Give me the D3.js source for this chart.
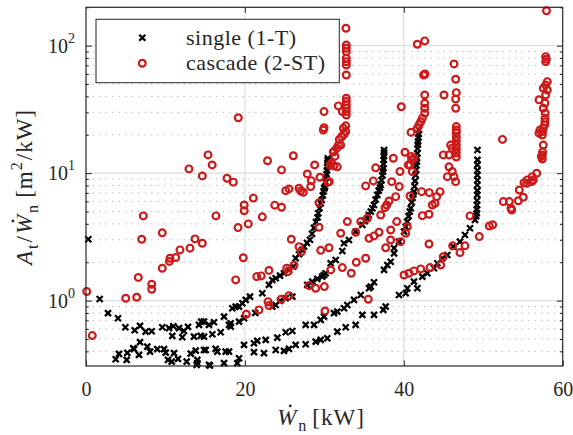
<!DOCTYPE html>
<html>
<head>
<meta charset="utf-8">
<script src="https://cdn.jsdelivr.net/npm/d3@7"></script>
<style>
  body { margin: 0; background: #fff; }
  svg { display: block; }
  text { font-family: "Liberation Serif", "Times New Roman", serif; fill: #262626; }
</style>
</head>
<body>
<div id="chart"></div>
<script>
// ---- data: [W_n in kW, A_t/W_n in m2/kW] ----
var singlePts = [
  [0.29,3.03],
  // upper band -> steep branch near 30 kW
  [1.72,1.03],[2.77,0.797],[4.03,0.728],[4.95,0.618],[6.13,0.586],[6.80,0.634],[7.51,0.571],[8.27,0.575],
  [9.60,0.618],[10.45,0.608],[10.99,0.630],[11.71,0.608],[12.33,0.578],[12.84,0.622],[14.22,0.645],[14.51,0.684],
  [14.85,0.684],[15.48,0.645],[16.11,0.677],[17.37,0.749],[18.41,0.872],[18.84,0.897],[19.26,0.897],[19.68,0.954],
  [20.10,1.013],[20.64,1.075],[22.19,1.143],[23.03,1.328],[23.45,1.453],[23.88,1.498],[24.42,1.571],[24.92,1.64],
  [25.55,1.74],[26.09,1.848],[26.39,2.15],[26.81,2.31],[27.22,2.50],[27.44,2.65],[27.82,2.84],[28.19,3.0],
  [28.45,3.35],[28.70,3.72],[28.95,4.14],[29.15,4.5],[29.24,4.85],[29.40,5.3],[29.55,5.8],[29.67,6.16],
  [29.80,6.7],[29.90,7.2],[30.0,7.6],[30.08,7.84],[30.15,8.5],[30.2,9.2],[30.28,9.8],[30.33,10.5],
  [30.36,11.2],[30.4,12.0],[30.42,12.6],[30.44,13.1],
  // second band -> branch near 37.5 kW
  [10.86,0.529],[12.12,0.516],[13.59,0.522],[14.44,0.529],[14.85,0.522],[15.90,0.545],[16.95,0.565],[18.0,0.645],
  [18.21,0.625],[18.21,0.665],[19.26,0.684],[19.89,0.728],[21.3,0.80],[23.45,0.897],[23.88,0.925],[24.42,0.995],
  [25.14,1.044],[25.97,1.075],[27.85,1.328],[28.48,1.409],[29.11,1.48],[29.74,1.543],[29.96,1.59],[30.17,1.64],
  [30.80,1.965],[31.43,2.085],[32.26,2.45],[32.47,2.82],[33.10,2.99],[33.94,3.48],[34.78,3.93],[35.1,4.2],
  [35.41,4.43],[35.6,4.7],[35.84,4.99],[36.05,5.3],[36.25,5.63],[36.45,6.2],[36.67,6.75],[36.85,7.3],
  [37.0,7.7],[37.09,8.08],[37.2,8.8],[37.3,9.6],[37.38,10.3],[37.42,10.9],[37.45,11.8],[37.48,12.7],
  [37.5,13.6],[37.51,14.5],[37.52,15.2],
  // third band -> branch near 42 kW
  [14.85,0.41],[16.32,0.418],[16.53,0.398],[17.58,0.398],[18.0,0.398],[19.89,0.45],[21.14,0.463],[21.56,0.483],
  [22.62,0.492],[24.08,0.513],[25.14,0.565],[25.97,0.578],[27.65,0.645],[28.70,0.645],[29.54,0.706],[29.96,0.749],
  [31.21,0.797],[31.63,0.820],[32.47,0.872],[32.89,0.925],[33.73,1.013],[34.58,1.108],[35.62,1.251],[35.84,1.288],
  [36.25,1.394],[37.51,1.741],[37.92,1.905],[38.35,2.02],[38.77,2.35],[38.77,2.58],[39.40,2.90],[40.03,3.48],
  [40.25,3.8],[40.44,4.17],[40.6,4.6],[40.75,5.0],[40.87,5.31],[41.0,5.9],[41.1,6.4],[41.2,6.8],
  [41.28,7.16],[41.35,7.9],[41.42,8.7],[41.5,9.68],[41.55,10.6],[41.58,11.5],[41.62,12.3],[41.65,13.1],
  [41.7,14.3],[41.73,15.6],[41.76,16.7],[41.79,17.7],[41.83,19.0],[41.87,20.3],[41.91,21.8],
  // lowest band -> branch near 49 kW
  [15.48,0.313],[17.37,0.323],[19.04,0.323],[19.26,0.353],[21.14,0.394],[22.40,0.387],[23.88,0.41],[24.92,0.403],
  [25.55,0.418],[26.39,0.45],[27.65,0.455],[28.91,0.477],[29.54,0.492],[30.37,0.507],[31.63,0.571],[32.69,0.618],
  [33.94,0.645],[34.78,0.773],[36.25,0.773],[37.42,0.846],[37.72,0.897],[39.40,1.108],[40.24,1.143],[40.44,1.251],
  [41.70,1.251],[41.28,1.409],[42.33,1.543],[42.96,1.64],[43.80,1.795],[44.22,1.965],[44.85,2.15],[45.48,2.28],
  [46.23,2.65],[47.07,2.90],[47.70,3.27],[48.33,3.70],[48.96,4.30],[49.1,4.6],[49.18,4.85],[49.2,5.2],
  [49.21,5.63],[49.22,6.1],[49.24,6.75],[49.25,7.3],[49.25,8.08],[49.26,8.8],[49.26,9.68],[49.26,10.5],
  [49.26,11.6],[49.27,12.7],[49.27,15.2],
  // scattered low points
  [6.80,0.472],[6.04,0.416],[7.72,0.436],[8.06,0.398],[6.67,0.375],[8.97,0.416],[9.82,0.416],[10.03,0.391],
  [11.08,0.387],[13.18,0.384],[13.81,0.405],[15.07,0.41],[4.15,0.382],[3.74,0.347],[5.20,0.389],[5.12,0.343],
  [10.32,0.343],[10.79,0.332],[11.58,0.349],[12.67,0.332],[14.01,0.343],[14.01,0.323],[15.6,0.31],[5.95,0.423],
  [13.93,0.313]
];

var cascadePts = [
  [0.09,1.18],[0.79,0.532],[5.0,1.044],[6.38,1.063],[6.58,1.52],[8.27,1.345],[8.27,1.229],[9.60,1.795],
  [10.51,2.03],[10.57,2.15],[11.29,2.18],[11.83,2.50],[13.09,2.58],[13.72,3.05],[14.64,2.82],[7.01,3.03],
  [9.60,3.40],[7.21,4.62],[16.36,4.62],[12.96,10.8],[14.64,9.51],[15.36,13.9],[15.88,11.6],[17.75,9.12],
  [18.54,8.50],[19.17,27.2],[22.85,12.5],[24.61,10.6],[25.14,7.29],[25.55,7.52],[21.06,6.37],[19.91,5.63],
  [19.91,5.07],[23.76,5.61],[24.61,5.40],[22.19,4.54],[19.13,3.74],[20.43,4.0],[26.09,13.7],[28.78,11.6],
  [27.85,9.86],[28.36,8.73],[29.45,9.29],[28.28,7.84],[26.81,7.61],[27.02,7.25],[27.35,7.08],[29.33,5.87],
  [29.33,3.76],[25.84,3.03],[26.81,2.65],[27.10,2.42],[29.54,2.48],[29.87,21.8],[30.46,8.48],[19.80,2.17],
  [18.84,1.454],[21.49,1.543],[22.06,1.563],[23.03,1.725],[25.26,1.795],[25.43,1.689],[26.18,1.895],[20.18,0.782],
  [21.77,0.846],[22.91,0.982],[23.03,0.914],[24.58,1.026],[25.55,1.094],[28.07,1.311],[28.91,1.251],[30.0,1.288],
  [30.08,0.83],[35.53,1.026],[30.80,1.741],[32.26,1.815],[33.39,1.64],[34.02,2.0],[35.20,2.15],[30.58,2.6],
  [37.72,2.6],[40.03,1.59],[40.65,1.64],[41.28,1.71],[42.13,1.773],[43.30,1.815],[44.64,1.905],[44.97,2.21],
  [43.17,2.78],[46.15,2.69],[47.07,2.38],[47.70,2.69],[48.33,4.62],[49.50,3.18],[50.76,3.85],[51.19,3.93],
  [53.58,5.14],[52.52,5.98],[53.28,5.98],[53.49,5.31],[54.41,6.08],[54.54,7.38],[55.04,6.47],[55.47,8.33],
  [56.10,8.57],[56.73,9.98],[56.30,8.85],[52.42,18.4],
  // column near 58 kW
  [57.96,188],[57.86,82.0],[57.94,78.2],[57.86,74.9],[58.06,52.2],[57.86,49.2],[57.56,46.3],[58.06,44.9],
  [57.86,41.0],[57.02,37.6],[57.77,35.5],[57.56,32.3],[57.8,29.7],[57.77,26.9],[57.77,25.3],[57.73,23.9],
  [57.56,22.5],[57.47,21.2],[57.43,19.9],[57.14,21.8],[57.02,20.6],[57.56,16.6],[57.47,14.7],[57.43,13.9],
  [57.31,13.5],[57.43,12.9],[56.17,9.39],[55.54,8.85],[55.13,8.42],
  // column near 46.5 kW
  [46.32,71.9],[46.53,54.5],[46.61,42.8],[46.53,38.2],[46.53,32.3],[46.61,23.2],[46.61,21.8],[46.61,20.7],
  [46.61,19.2],[46.61,17.9],[46.61,16.6],[46.61,15.5],[46.61,14.4],[46.61,13.4],[45.06,41.0],[45.90,16.6],
  [46.10,15.7],[45.69,13.9],[45.69,11.2],[46.10,10.3],[46.32,9.39],[45.48,9.39],[46.53,8.57],[44.97,13.9],
  // column near 42.6 kW
  [41.70,102.5],[42.63,109],[42.67,60.0],[42.5,58.9],[42.63,41.0],[42.63,35.3],[42.63,32.3],[42.63,29.5],
  [42.33,26.9],[42.13,25.3],[41.91,23.9],[41.70,22.5],[39.69,33.2],[40.91,20.9],[40.15,14.6],[39.52,10.3],
  [40.57,11.6],[40.99,12.7],[41.28,13.1],[40.78,6.62],[38.68,13.1],[38.48,8.57],[39.43,7.84],[43.21,7.03],
  [42.25,7.16],[44.56,7.16],[44.14,6.54],[43.93,5.81],[43.59,5.63],[43.17,4.76],[42.33,4.64],[40.95,13.5],
  [40.78,11.6],[41.07,10.3],[38.98,6.54],[38.14,6.05],[37.85,5.63],[37.63,5.36],[37.09,4.70],[39.11,4.17],
  [40.44,3.80],[40.24,3.38],[38.35,3.58],[36.88,3.44],[36.25,3.22],[35.62,3.08],[34.58,4.17],[35.41,4.43],
  [32.89,4.17],[32.06,3.38],[33.94,3.44],[38.35,2.99],[39.61,2.90],[36.46,11.0],[35.20,7.94],[36.16,8.69],
  // column near 32.7 kW
  [32.72,137],[32.76,101],[32.76,95.4],[32.76,89.8],[32.76,79.7],[32.76,74.9],[32.76,70.6],[32.76,58.9],
  [32.76,38.7],[32.76,36.4],[32.76,34.3],[32.76,32.3],[32.76,30.4],[32.76,28.6],[31.76,33.7],[32.26,30.4],
  [29.96,30.4],[29.96,22.7],[32.69,23.5],[32.39,22.5],[32.47,20.2],[32.18,19.3],[31.88,18.4],[31.76,16.6],
  [31.55,15.7],[31.13,14.7],[31.34,13.6],[30.92,12.0],[30.71,11.6],[31.21,11.4],[31.63,11.2],[30.62,8.57],
  [32.69,21.2],[32.06,16.6],[31.21,14.7]
];

var xTicks = [0, 20, 40, 60];
var yMajor = [1, 10, 100];
var yMinor = [0.4,0.5,0.6,0.7,0.8,0.9, 2,3,4,5,6,7,8,9, 20,30,40,50,60,70,80,90, 200];
var seriesNames = ["single (1-T)", "cascade (2-ST)"];

// ---- layout ----
var width = 573, height = 435;
var plotL = 86, plotR = 562.7, plotT = 7.3, plotB = 366;
var ink = "#262626";
var red = "#cc1a1a";

var svg = d3.select("#chart").append("svg")
  .attr("width", width)
  .attr("height", height);

var x = d3.scaleLinear().domain([0, 60]).range([plotL, plotR]);
var y = d3.scaleLog().domain([0.307, 200]).range([plotB, plotT]);

// grid: dotted minor lines first, then solid major ones
var grid = svg.append("g");
grid.selectAll("line.minor").data(yMinor).enter().append("line")
  .attr("x1", plotL).attr("x2", plotR)
  .attr("y1", d => y(d)).attr("y2", d => y(d))
  .attr("stroke", "#bdbdbd").attr("stroke-width", 1)
  .attr("stroke-dasharray", "1.5,5");
grid.selectAll("line.majy").data(yMajor).enter().append("line")
  .attr("x1", plotL).attr("x2", plotR)
  .attr("y1", d => y(d)).attr("y2", d => y(d))
  .attr("stroke", "#dedede").attr("stroke-width", 1.2);
grid.selectAll("line.majx").data(xTicks.slice(1, 3)).enter().append("line")
  .attr("x1", d => x(d)).attr("x2", d => x(d))
  .attr("y1", plotT).attr("y2", plotB)
  .attr("stroke", "#dedede").attr("stroke-width", 1.2);

// markers
var xMark = "M-3,-3L3,3M-3,3L3,-3";
svg.append("g").selectAll("path").data(singlePts).enter().append("path")
  .attr("d", xMark)
  .attr("transform", d => "translate(" + x(d[0]) + "," + y(d[1]) + ")")
  .attr("stroke", "#000").attr("stroke-width", 2.3).attr("fill", "none");

svg.append("g").selectAll("circle").data(cascadePts).enter().append("circle")
  .attr("cx", d => x(d[0])).attr("cy", d => y(d[1]))
  .attr("r", 3.4)
  .attr("fill", "none").attr("stroke", red).attr("stroke-width", 2.2);

// axes box and inward ticks
svg.append("rect")
  .attr("x", plotL).attr("y", plotT)
  .attr("width", plotR - plotL).attr("height", plotB - plotT)
  .attr("fill", "none").attr("stroke", ink).attr("stroke-width", 1.2);

function styleAxis(g) {
  g.select(".domain").remove();
  g.selectAll(".tick line").attr("stroke", ink).attr("stroke-width", 1);
  g.selectAll(".tick text").attr("fill", ink).attr("font-size", 20)
    .attr("font-family", "Liberation Serif, serif");
}

var gx = svg.append("g").attr("transform", "translate(0," + plotB + ")")
  .call(d3.axisBottom(x).tickValues(xTicks).tickSizeInner(-5.5).tickSizeOuter(0).tickPadding(15.5).tickFormat(d3.format("d")));
styleAxis(gx);

var gxTop = svg.append("g").attr("transform", "translate(0," + plotT + ")")
  .call(d3.axisTop(x).tickValues([20, 40]).tickSizeInner(-5.5).tickSizeOuter(0).tickFormat(""));
styleAxis(gxTop);

[[plotL, d3.axisLeft], [plotR, d3.axisRight]].forEach(function(side) {
  var gMin = svg.append("g").attr("transform", "translate(" + side[0] + ",0)")
    .call(side[1](y).tickValues(yMinor).tickSizeInner(-2.8).tickSizeOuter(0).tickFormat(""));
  styleAxis(gMin);
  var gMaj = svg.append("g").attr("transform", "translate(" + side[0] + ",0)")
    .call(side[1](y).tickValues(yMajor).tickSizeInner(-5.8).tickSizeOuter(0).tickPadding(11).tickFormat(""));
  styleAxis(gMaj);
  if (side[0] === plotL) {
    gMaj.selectAll(".tick text").each(function(d) {
      var t = d3.select(this).attr("dy", "0.33em");
      t.append("tspan").text("10");
      t.append("tspan").attr("dy", -10).attr("font-size", 14).text(Math.round(Math.log10(d)));
    });
  }
});

// rich text helper: lays out pieces one after the other
function richText(g, parts, size, spacing) {
  var cx = 0;
  parts.forEach(function(p) {
    var fs = (p.sub || p.sup) ? size * 0.7 : size;
    var dy = p.sub ? size * 0.24 : (p.sup ? -size * 0.42 : 0);
    var el = g.append("text")
      .attr("x", cx).attr("y", dy)
      .attr("font-size", fs)
      .attr("font-style", p.it ? "italic" : "normal")
      .attr("letter-spacing", spacing)
      .text(p.t);
    var w = el.node().getComputedTextLength();
    if (p.dot) {
      g.append("circle").attr("cx", cx + w * 0.55 + 2).attr("cy", -size * 0.83)
        .attr("r", 1.4).attr("fill", ink);
    }
    cx += w + (p.gap || 0);
  });
  return cx;
}

var xl = svg.append("g");
var xlw = richText(xl, [{t: "W", it: 1, dot: 1, gap: 1}, {t: "n", sub: 1, gap: 5}, {t: "[kW]"}], 23, 1);
xl.attr("transform", "translate(" + (321 - xlw / 2) + ",425)");

var yl = svg.append("g");
var ylw = richText(yl, [
  {t: "A", it: 1, gap: 1}, {t: "t", sub: 1, gap: 1}, {t: "/", gap: 1},
  {t: "W", it: 1, dot: 1, gap: 1}, {t: "n", sub: 1, gap: 6},
  {t: "[m"}, {t: "2", sup: 1, gap: 1}, {t: "/kW]"}
], 23, 1);
yl.attr("transform", "translate(32," + (187 + ylw / 2) + ") rotate(-90)");

// legend
var leg = svg.append("g");
leg.append("rect")
  .attr("x", 96).attr("y", 19.3).attr("width", 243.3).attr("height", 63.4)
  .attr("fill", "#fff").attr("stroke", ink).attr("stroke-width", 1);
leg.append("path").attr("d", xMark).attr("transform", "translate(142.3,37.7)")
  .attr("stroke", "#000").attr("stroke-width", 2.3);
leg.append("circle").attr("cx", 142.3).attr("cy", 63.3).attr("r", 3.4)
  .attr("fill", "none").attr("stroke", red).attr("stroke-width", 2.2);
leg.selectAll("text").data(seriesNames).enter().append("text")
  .attr("x", 186).attr("y", (d, i) => 44.5 + i * 25.8)
  .attr("font-size", 22).attr("letter-spacing", 0.5)
  .text(d => d);
</script>
</body>
</html>
